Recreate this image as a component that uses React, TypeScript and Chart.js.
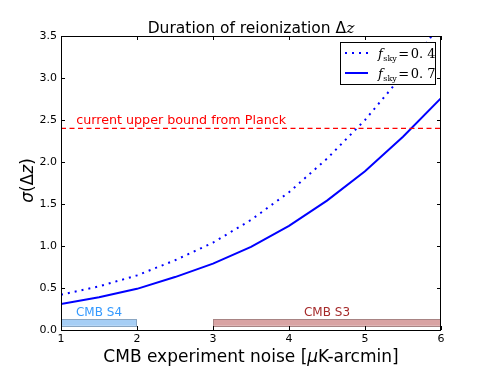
import React, { useEffect, useRef } from "react";
import { Chart, registerables } from "chart.js";

Chart.register(...registerables);

// ---- data ----
const noise = [1, 1.5, 2, 2.5, 3, 3.5, 4, 4.5, 5, 5.5, 6];
const sigmaFsky04 = [0.42, 0.52, 0.65, 0.83, 1.04, 1.31, 1.64, 2.04, 2.5, 3.04, 3.65];
const sigmaFsky07 = [0.31, 0.39, 0.49, 0.63, 0.79, 0.99, 1.24, 1.54, 1.89, 2.3, 2.76];
const planckBound = 2.4;
const planckLabel = "current upper bound from Planck";
const planckLabelX = 1.2;
const experimentNames = ["CMB S4", "CMB S3"];
const experimentStart = [1, 3];
const experimentEnd = [2, 6];
const experimentLow = 0.05;
const experimentHigh = 0.13;
const experimentLabelY = 0.16;
const xTicks = [1, 2, 3, 4, 5, 6];
const yTicks = [0, 0.5, 1, 1.5, 2, 2.5, 3, 3.5];
const legendLabels = ["0.4", "0.7"];

const expFill = ["#a6cef5", "#d9a3a3"];
const expEdge = ["#8aa6c2", "#a88484"];
const expText = ["#3399ff", "#a52a2a"];

type Run = { t: string; font: string; dy?: number; dx?: number };

function runsWidth(ctx: CanvasRenderingContext2D, runs: Run[]) {
  let w = 0;
  for (const r of runs) {
    ctx.font = r.font;
    w += ctx.measureText(r.t).width + (r.dx || 0);
  }
  return w;
}

function drawRuns(ctx: CanvasRenderingContext2D, runs: Run[], x: number, y: number, align: "left" | "center") {
  const w = runsWidth(ctx, runs);
  let cx = align === "center" ? x - w / 2 : x;
  ctx.textAlign = "left";
  ctx.textBaseline = "alphabetic";
  for (const r of runs) {
    ctx.font = r.font;
    ctx.fillText(r.t, cx + (r.dx || 0), y + (r.dy || 0));
    cx += ctx.measureText(r.t).width + (r.dx || 0);
  }
}

const decorPlugin = {
  id: "decor",
  afterDatasetsDraw(chart: any) {
    const ctx: CanvasRenderingContext2D = chart.ctx;
    const xs = chart.scales.x;
    const ys = chart.scales.y;
    ctx.save();
    // experiment bars
    for (let i = 0; i < experimentNames.length; i++) {
      const x0 = xs.getPixelForValue(experimentStart[i]);
      const x1 = xs.getPixelForValue(experimentEnd[i]);
      const y0 = ys.getPixelForValue(experimentHigh);
      const y1 = ys.getPixelForValue(experimentLow);
      ctx.fillStyle = expFill[i];
      ctx.fillRect(x0, y0, x1 - x0, y1 - y0);
      ctx.strokeStyle = expEdge[i];
      ctx.lineWidth = 1;
      ctx.strokeRect(Math.round(x0) + 0.5, Math.round(y0) + 0.5, Math.round(x1 - x0) - 1, Math.round(y1 - y0));
      ctx.fillStyle = expText[i];
      ctx.font = "12px 'DejaVu Sans'";
      ctx.textAlign = "center";
      ctx.textBaseline = "alphabetic";
      ctx.fillText(
        experimentNames[i],
        xs.getPixelForValue((experimentStart[i] + experimentEnd[i]) / 2),
        ys.getPixelForValue(experimentLabelY) - 0.5
      );
    }
    // Planck label
    ctx.fillStyle = "#ff0000";
    ctx.font = "12.7px 'DejaVu Sans'";
    ctx.textAlign = "left";
    ctx.fillText(planckLabel, xs.getPixelForValue(planckLabelX), ys.getPixelForValue(planckBound) - 4);
    ctx.restore();
  },
  afterDraw(chart: any) {
    const ctx: CanvasRenderingContext2D = chart.ctx;
    const a = chart.chartArea;
    const xs = chart.scales.x;
    const ys = chart.scales.y;
    ctx.save();
    // frame
    ctx.strokeStyle = "#000";
    ctx.lineWidth = 1;
    ctx.strokeRect(Math.round(a.left) + 0.5, Math.round(a.top) + 0.5, Math.round(a.right - a.left) - 1, Math.round(a.bottom - a.top));
    // inner ticks
    ctx.beginPath();
    for (const v of xTicks) {
      const px = Math.round(xs.getPixelForValue(v)) + 0.5;
      ctx.moveTo(px, a.bottom);
      ctx.lineTo(px, a.bottom - 4);
      ctx.moveTo(px, a.top);
      ctx.lineTo(px, a.top + 4);
    }
    for (const v of yTicks) {
      const py = Math.round(ys.getPixelForValue(v)) + 0.5;
      ctx.moveTo(a.left, py);
      ctx.lineTo(a.left + 4, py);
      ctx.moveTo(a.right, py);
      ctx.lineTo(a.right - 4, py);
    }
    ctx.stroke();

    // legend
    const lx0 = 340, ly0 = 42, lx1 = 436, ly1 = 85;
    ctx.fillStyle = "#fff";
    ctx.fillRect(lx0, ly0, lx1 - lx0, ly1 - ly0);
    ctx.strokeStyle = "#000";
    ctx.strokeRect(lx0 + 0.5, ly0 + 0.5, lx1 - lx0 - 1, ly1 - ly0 - 1);
    const rowsY = [53, 73];
    for (let i = 0; i < 2; i++) {
      ctx.beginPath();
      ctx.strokeStyle = "#0000ff";
      ctx.lineWidth = 2;
      ctx.setLineDash(i === 0 ? [2, 5] : []);
      ctx.moveTo(345, rowsY[i]);
      ctx.lineTo(368, rowsY[i]);
      ctx.stroke();
      ctx.setLineDash([]);
      ctx.fillStyle = "#000";
      drawRuns(
        ctx,
        [
          { t: "f", font: "italic 13px 'DejaVu Serif'" },
          { t: "sky", font: "8px 'DejaVu Serif'", dy: 2.5, dx: 0.5 },
          { t: "=", font: "13px 'DejaVu Serif'", dx: 1.5 },
          { t: legendLabels[i].replace(".", ". "), font: "13px 'DejaVu Serif'", dx: 1.5 },
        ],
        378,
        rowsY[i] + 5,
        "left"
      );
    }

    // title
    ctx.fillStyle = "#000";
    drawRuns(
      ctx,
      [
        { t: "Duration of reionization Δ", font: "15.5px 'DejaVu Sans'" },
        { t: "z", font: "italic 15.5px 'DejaVu Serif'" },
      ],
      (a.left + a.right) / 2,
      32.5,
      "center"
    );
    // x title
    drawRuns(
      ctx,
      [
        { t: "CMB experiment noise [", font: "17px 'DejaVu Sans'" },
        { t: "μ", font: "italic 17px 'DejaVu Sans'" },
        { t: "K-arcmin]", font: "17px 'DejaVu Sans'" },
      ],
      (a.left + a.right) / 2,
      362,
      "center"
    );
    // y title
    ctx.save();
    ctx.translate(33, 180.5);
    ctx.rotate(-Math.PI / 2);
    drawRuns(
      ctx,
      [
        { t: "σ", font: "italic 17px 'DejaVu Sans'" },
        { t: "(Δ", font: "17px 'DejaVu Sans'" },
        { t: "z", font: "italic 17px 'DejaVu Sans'" },
        { t: ")", font: "17px 'DejaVu Sans'" },
      ],
      0,
      0,
      "center"
    );
    ctx.restore();
    ctx.restore();
  },
};

export default function App() {
  const ref = useRef<HTMLCanvasElement | null>(null);
  useEffect(() => {
    if (!ref.current) return;
    const chart = new Chart(ref.current, {
      type: "line",
      data: {
        datasets: [
          {
            label: "planck",
            data: [
              { x: xTicks[0], y: planckBound },
              { x: xTicks[xTicks.length - 1], y: planckBound },
            ],
            borderColor: "#ff0000",
            borderWidth: 1.3,
            borderDash: [5, 3.5],
            pointRadius: 0,
            fill: false,
          },
          {
            label: "fsky=0.4",
            data: noise.map((x, i) => ({ x, y: sigmaFsky04[i] })),
            borderColor: "#0000ff",
            borderWidth: 2,
            borderDash: [2, 5],
            pointRadius: 0,
            tension: 0,
            fill: false,
          },
          {
            label: "fsky=0.7",
            data: noise.map((x, i) => ({ x, y: sigmaFsky07[i] })),
            borderColor: "#0000ff",
            borderWidth: 2,
            pointRadius: 0,
            tension: 0,
            fill: false,
          },
        ],
      },
      options: {
        animation: false,
        responsive: false,
        devicePixelRatio: 1,
        layout: { padding: { left: 0, right: 50, top: 36, bottom: 0 } },
        plugins: { legend: { display: false }, tooltip: { enabled: false }, title: { display: false } },
        scales: {
          x: {
            type: "linear",
            min: 1,
            max: 6,
            grid: { display: false, drawTicks: false },
            border: { display: false },
            afterFit: (s: any) => {
              s.height = 38;
            },
            afterBuildTicks: (s: any) => {
              s.ticks = xTicks.map((v) => ({ value: v }));
            },
            ticks: {
              padding: 3,
              color: "#000",
              font: { family: "'DejaVu Sans'", size: 11 },
              callback: (v: any) => String(v),
              maxRotation: 0,
            },
          },
          y: {
            type: "linear",
            min: 0,
            max: 3.5,
            grid: { display: false, drawTicks: false },
            border: { display: false },
            afterFit: (s: any) => {
              s.width = 61;
            },
            afterBuildTicks: (s: any) => {
              s.ticks = yTicks.map((v) => ({ value: v }));
            },
            ticks: {
              padding: 4,
              color: "#000",
              font: { family: "'DejaVu Sans'", size: 11 },
              callback: (v: any) => Number(v).toFixed(1),
            },
          },
        },
      },
      plugins: [decorPlugin],
    });
    return () => chart.destroy();
  }, []);
  return (
    <div style={{ position: "fixed", left: 0, top: 0, width: 491, height: 368, background: "#fff" }}>
      <canvas ref={ref} width={491} height={368} />
    </div>
  );
}
